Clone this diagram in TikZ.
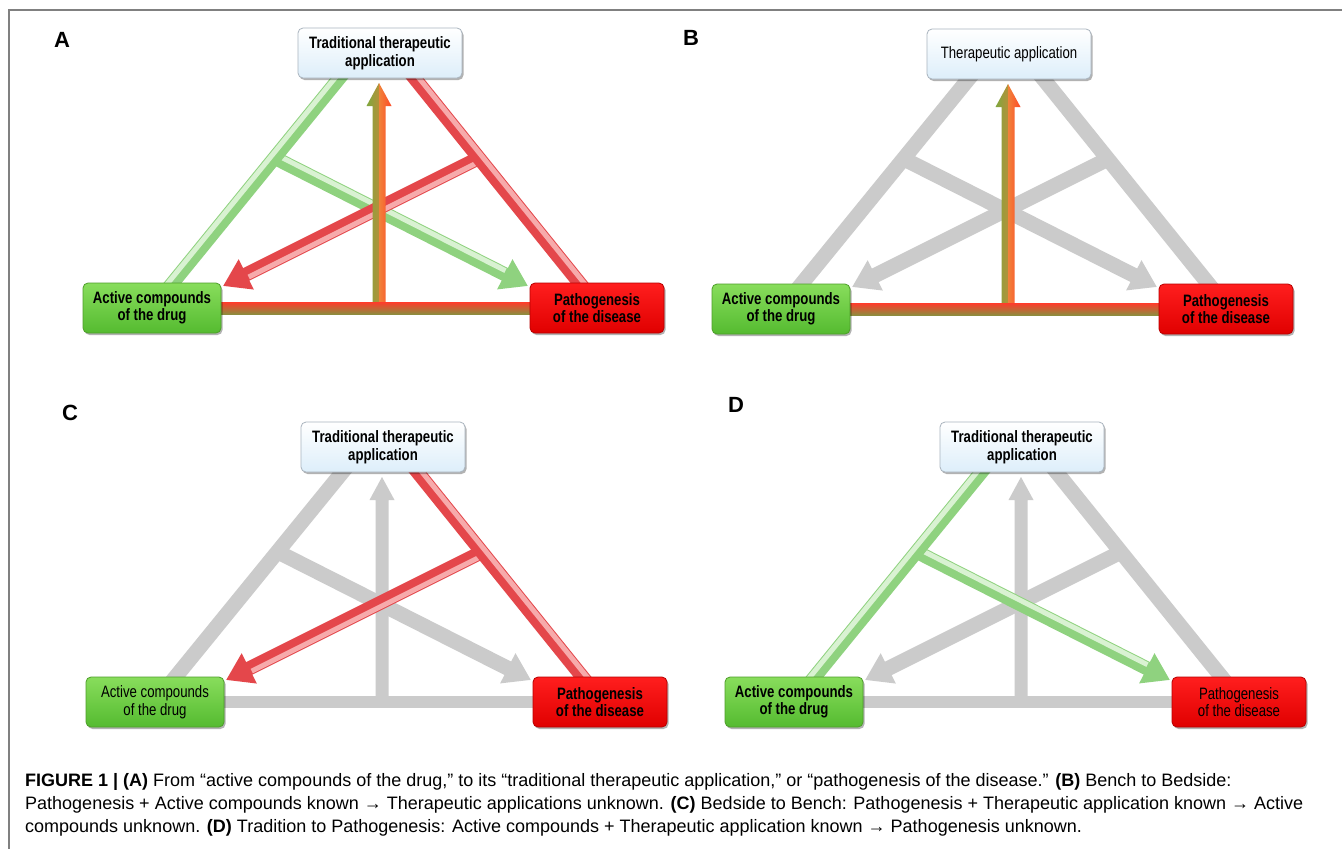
\documentclass[tikz,border=0pt]{standalone}
\usepackage{fontspec}
\setmainfont{Liberation Sans}
\newfontfamily\narrowfont[FakeStretch=0.8]{Liberation Sans}
\usetikzlibrary{arrows.meta,calc,shadows}
\pgfdeclarelayer{bg}
\pgfsetlayers{bg,main}
\definecolor{topfill}{HTML}{DDEEFA}
\definecolor{topdraw}{HTML}{A9B4BE}
\definecolor{actTop}{HTML}{88DD5C}
\definecolor{actBot}{HTML}{55BB30}
\definecolor{actdraw}{HTML}{4E9E2A}
\definecolor{patTop}{HTML}{FF1E1E}
\definecolor{patBot}{HTML}{E00000}
\definecolor{patdraw}{HTML}{B80000}
\definecolor{barGray}{HTML}{CBCBCB}
\definecolor{grnBase}{HTML}{8FD27F}
\definecolor{grnHi}{HTML}{D9F2D2}
\definecolor{redBase}{HTML}{E4474B}
\definecolor{redHi}{HTML}{F7AAAB}
\definecolor{olvL}{HTML}{7FA83E}
\definecolor{olvR}{HTML}{B2913A}
\definecolor{orgL}{HTML}{F0823A}
\definecolor{orgR}{HTML}{FF4A28}
\definecolor{hbTop}{HTML}{FF3B2B}
\definecolor{hbMid}{HTML}{E27A33}
\definecolor{hbBot}{HTML}{8E8C3E}
\newcommand\boxb{\narrowfont\bfseries\fontsize{16.5}{17.5}\selectfont}
\newcommand\boxr{\narrowfont\fontsize{16.5}{17.5}\selectfont}
% boxes and named points of one panel
\newcommand\tribox[5]{%
  \node[topbox,font=#3] (#1top) at (4,53) {#2};
  \node[actbox,font=#4] (#1act) at (-224,308) {Active compounds\\of the drug};
  \node[patbox,font=#5] (#1pat) at (221,308) {Pathogenesis\\of the disease};
  \coordinate (#1lb) at (-210,291); \coordinate (#1lt) at (-30,70);
  \coordinate (#1rt) at (32,70);    \coordinate (#1rb) at (210,291);
  \coordinate (#1ls) at (-101,158); \coordinate (#1rs) at (103,158);
  \coordinate (#1gt) at (152,286);  \coordinate (#1rtip) at (-153,286);
  \coordinate (#1vb) at (3,306);    \coordinate (#1vt) at (3,83);
}
% glossy straight bar
\newcommand\gline[4]{%
  \draw[line width=14pt,#1] (#3) -- (#4);
  \draw[line width=5pt,#2] ($(#3)!3.5pt!90:(#4)$) -- ($(#4)!3.5pt!-90:(#3)$);
}
% glossy arrow
\newcommand\garrow[4]{%
  \draw[line width=14pt,#1,-{Triangle[length=26pt,width=32pt]}] (#3) -- (#4);
  \coordinate (hiend) at ($(#4)!27pt!(#3)$);
  \draw[line width=5pt,#2] ($(#3)!3.5pt!90:(#4)$) -- ($(hiend)!3.5pt!-90:(#3)$);
}
\newcommand\vpoly[1]{($(#1vt)+(-6.5,23)$) -- ($(#1vt)+(-12.5,23)$) -- (#1vt) -- ($(#1vt)+(12.5,23)$) -- ($(#1vt)+(6.5,23)$) -- ($(#1vb)+(6.5,0)$) -- ($(#1vb)+(-6.5,0)$) -- cycle}
\newcommand\vleft[1]{($(#1vt)+(-6.5,23)$) -- ($(#1vt)+(-12.5,23)$) -- (#1vt) -- ($(#1vb)+(0,0)$) -- ($(#1vb)+(-6.5,0)$) -- cycle}
\newcommand\vright[1]{(#1vt) -- ($(#1vt)+(12.5,23)$) -- ($(#1vt)+(6.5,23)$) -- ($(#1vb)+(6.5,0)$) -- (#1vb) -- cycle}
\newcommand\hrect[1]{($(#1act.east)+(-2,-6)$) rectangle ($(#1pat.west)+(2,6)$)}
\newcommand\colvert[1]{%
  \shade[left color=olvL, right color=olvR] \vleft{#1};
  \shade[left color=orgL, right color=orgR] \vright{#1};
}
\begin{document}
\begin{tikzpicture}[x=1pt,y=-1pt,
  frameline/.style={draw=black!50, line width=1.6pt},
  boxcommon/.style={rectangle, rounded corners=5pt, minimum height=50pt, align=center,
    inner sep=2pt, line width=0.8pt,
    drop shadow={shadow xshift=1.5pt, shadow yshift=-2pt, opacity=0.3, fill=black}},
  topbox/.style={boxcommon, minimum width=164pt, draw=topdraw, top color=white, bottom color=topfill},
  actbox/.style={boxcommon, minimum width=138pt, draw=actdraw, top color=actTop, bottom color=actBot},
  patbox/.style={boxcommon, minimum width=134pt, draw=patdraw, top color=patTop, bottom color=patBot},
  lbl/.style={font=\fontsize{22}{22}\selectfont\bfseries, inner sep=0pt},
  captext/.style={anchor=base west, inner sep=0pt, font=\fontsize{18}{23}\selectfont},
  graybar/.style={line width=15pt, draw=barGray},
  grayarrow/.style={line width=15pt, draw=barGray, -{Triangle[length=26pt,width=32pt]}},
  grnl/.style={draw=grnBase}, grnh/.style={draw=grnHi},
  redl/.style={draw=redBase}, redh/.style={draw=redHi}]
\useasboundingbox (0,0) rectangle (1342,849);
\begin{pgfonlayer}{bg}
\fill[white] (0,0) rectangle (1342,849);
\end{pgfonlayer}
\draw[frameline] (9,849) -- (9,10) -- (1342,10);

% ---------------- Panel A ----------------
\node[lbl] (labA) at (62,40) {A};
\begin{scope}[shift={(376,0)}]
\tribox{a}{Traditional therapeutic\\application}{\boxb}{\boxb}{\boxb}
\begin{pgfonlayer}{bg}
\garrow{grnl}{grnh}{als}{agt}
\garrow{redl}{redh}{ars}{artip}
\gline{grnl}{grnh}{alb}{alt}
\gline{redl}{redh}{art}{arb}
\colvert{a}
\shade[top color=hbTop, middle color=hbMid, bottom color=hbBot] \hrect{a};
\end{pgfonlayer}
\end{scope}

% ---------------- Panel B ----------------
\node[lbl] (labB) at (691,38) {B};
\begin{scope}[shift={(1005,1)}]
\tribox{b}{Therapeutic application}{\boxr}{\boxb}{\boxb}
\begin{pgfonlayer}{bg}
\draw[grayarrow] (bls) -- (bgt);
\draw[grayarrow] (brs) -- (brtip);
\draw[graybar] (blb) -- (blt);
\draw[graybar] (brt) -- (brb);
\colvert{b}
\shade[top color=hbTop, middle color=hbMid, bottom color=hbBot] \hrect{b};
\end{pgfonlayer}
\end{scope}

% ---------------- Panel C ----------------
\node[lbl] (labC) at (70,413) {C};
\begin{scope}[shift={(379,394)}]
\tribox{c}{Traditional therapeutic\\application}{\boxb}{\boxr}{\boxb}
\begin{pgfonlayer}{bg}
\draw[grayarrow] (cls) -- (cgt);
\draw[graybar] (clb) -- (clt);
\fill[barGray] \vpoly{c};
\fill[barGray] \hrect{c};
\garrow{redl}{redh}{crs}{crtip}
\gline{redl}{redh}{crt}{crb}
\end{pgfonlayer}
\end{scope}

% ---------------- Panel D ----------------
\node[lbl] (labD) at (736,405) {D};
\begin{scope}[shift={(1018,394)}]
\tribox{d}{Traditional therapeutic\\application}{\boxb}{\boxb}{\boxr}
\begin{pgfonlayer}{bg}
\draw[grayarrow] (drs) -- (drtip);
\draw[graybar] (drt) -- (drb);
\fill[barGray] \vpoly{d};
\fill[barGray] \hrect{d};
\garrow{grnl}{grnh}{dls}{dgt}
\gline{grnl}{grnh}{dlb}{dlt}
\end{pgfonlayer}
\end{scope}

% ---------------- Caption ----------------
\node[captext] (cap1) at (25,786) {\textbf{FIGURE 1 | (A)} From “active compounds of the drug,” to its “traditional therapeutic application,” or “pathogenesis of the disease.” \textbf{(B)} Bench to Bedside:};
\node[captext] (cap2) at (25,809) {Pathogenesis + Active compounds known → Therapeutic applications unknown. \textbf{(C)} Bedside to Bench: Pathogenesis + Therapeutic application known → Active};
\node[captext] (cap3) at (25,832) {compounds unknown. \textbf{(D)} Tradition to Pathogenesis: Active compounds + Therapeutic application known → Pathogenesis unknown.};
\end{tikzpicture}
\end{document}
